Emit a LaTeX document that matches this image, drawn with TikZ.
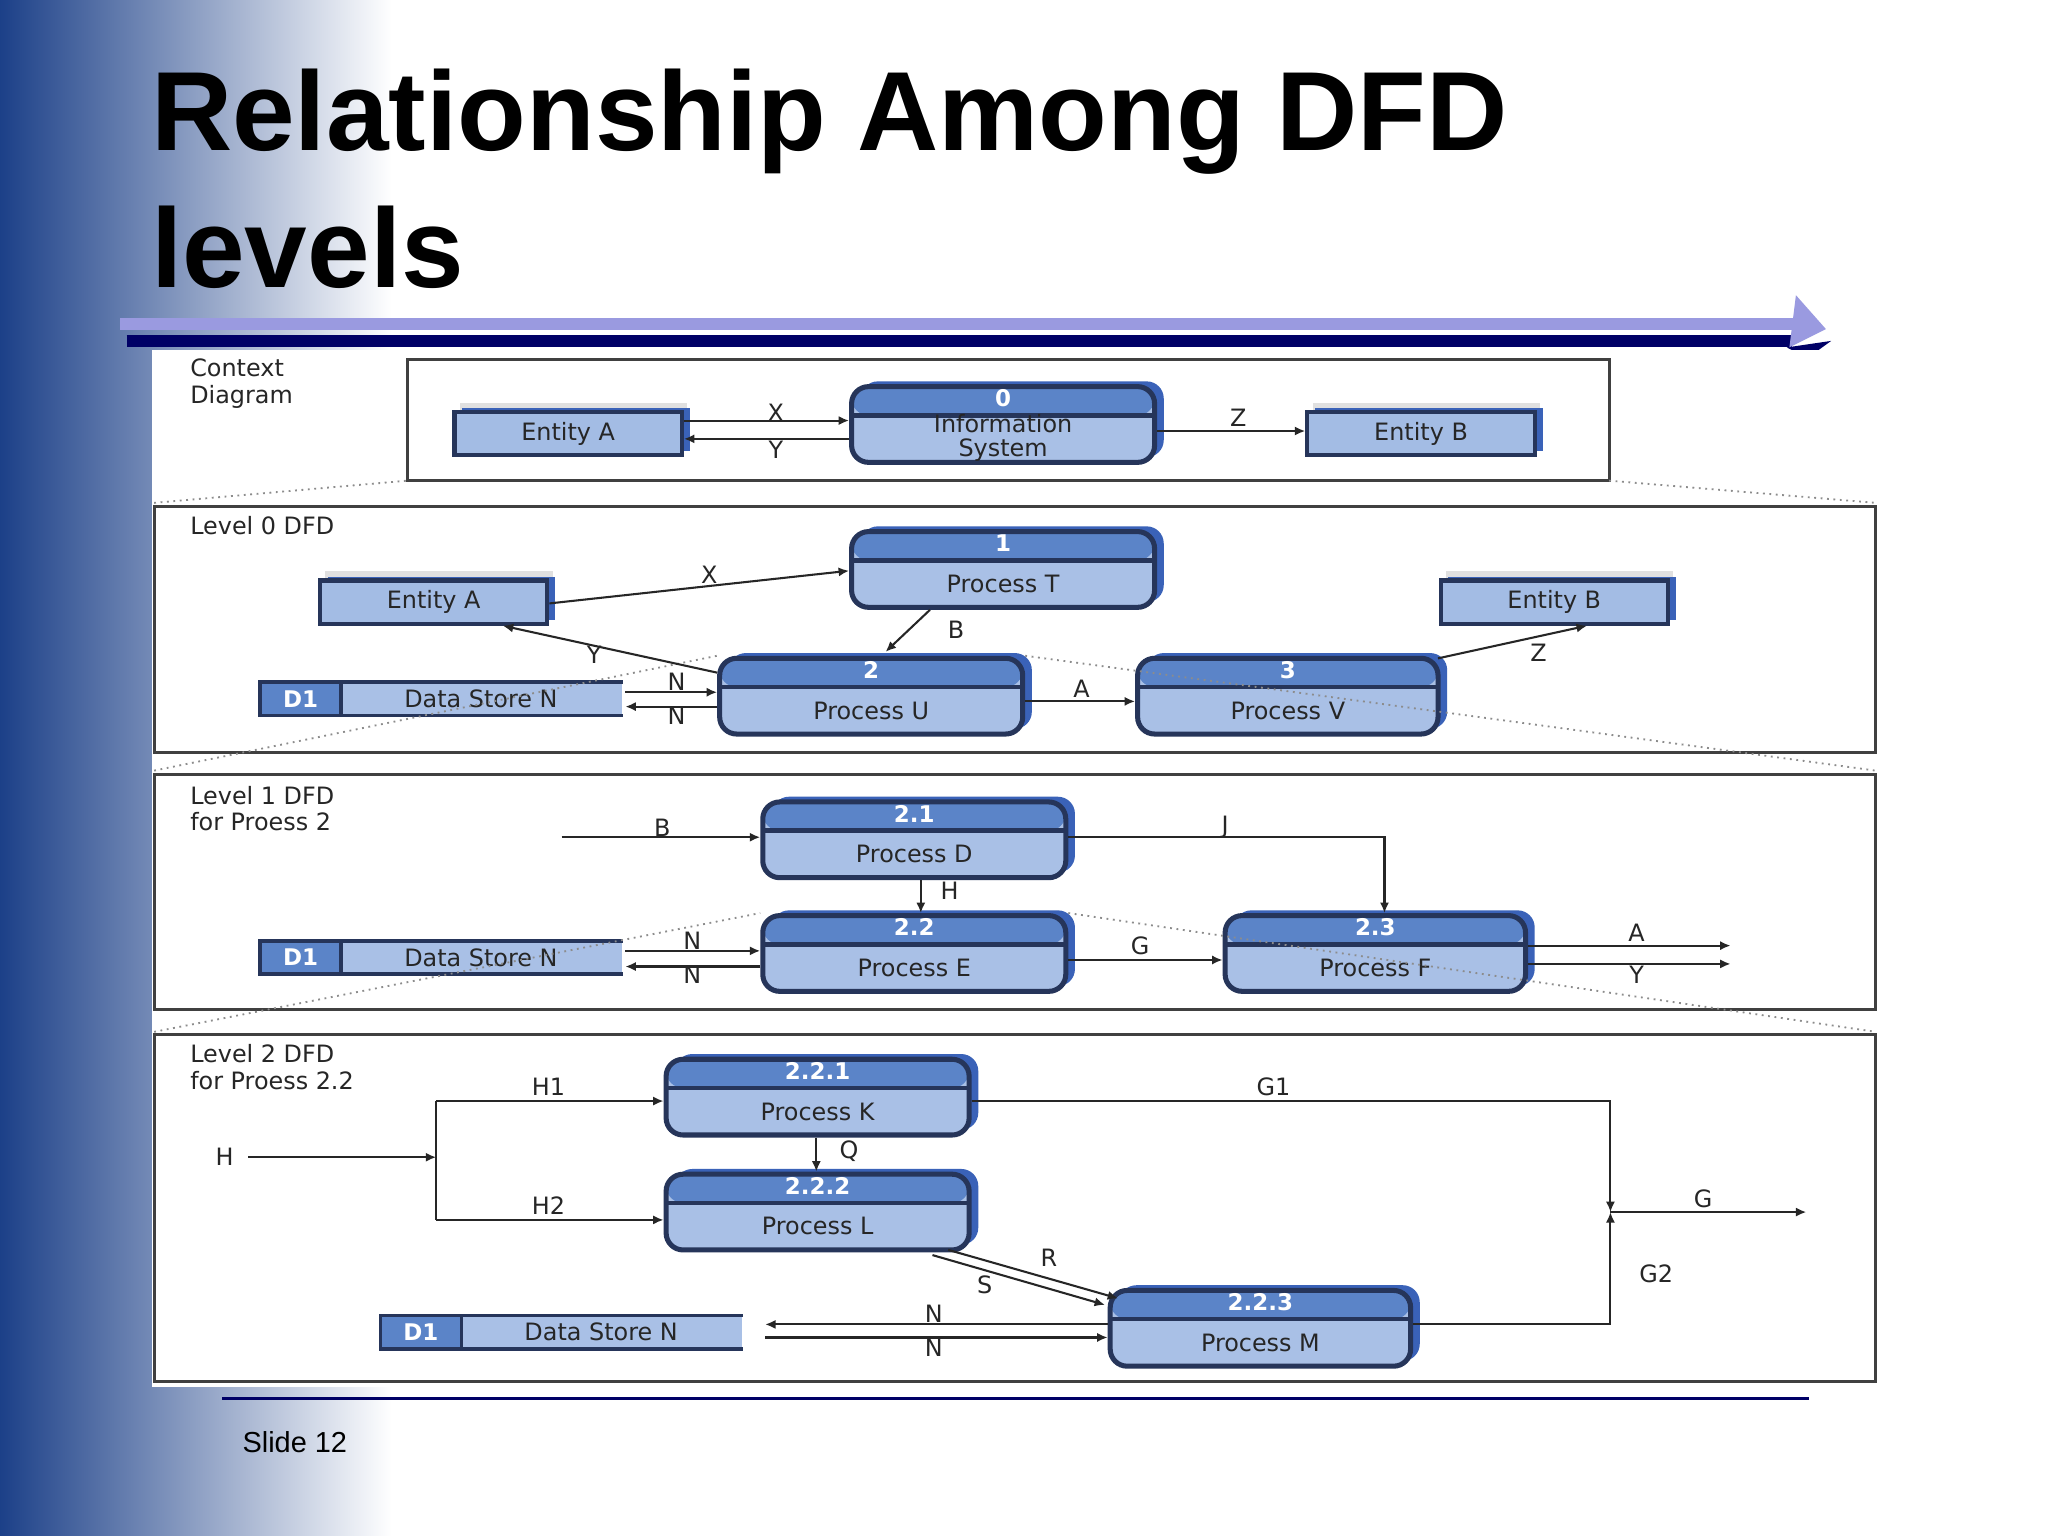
\documentclass[tikz,border=0pt]{standalone}
\usepackage{fontspec}
\setmainfont{Liberation Sans}
\newfontfamily\dfont{DejaVu Sans}
\usetikzlibrary{calc,arrows.meta}
\definecolor{bodyc}{HTML}{A9C0E6}
\definecolor{headc}{HTML}{5B84C8}
\definecolor{bordc}{HTML}{26355A}
\definecolor{shadc}{HTML}{3A62B8}
\definecolor{entc}{HTML}{A3BCE4}
\definecolor{navy}{HTML}{000066}
\definecolor{lav}{HTML}{9A9AE0}
\definecolor{leftc}{HTML}{1C4088}
\tikzset{
 procbox/.style={draw=bordc,line width=1.1pt,rounded corners=0.13cm,fill=bodyc,inner sep=0pt,
  path picture={\fill[headc] (path picture bounding box.north west) rectangle ($(path picture bounding box.north east)+(0,22)$);
   \draw[bordc,line width=1pt] ($(path picture bounding box.north west)+(0,22)$) -- ($(path picture bounding box.north east)+(0,22)$);}},
 procshadow/.style={fill=shadc,rounded corners=0.13cm,inner sep=0pt},
 entbox/.style={draw=bordc,line width=0.9pt,fill=entc,inner sep=0pt,minimum width=1.74cm,minimum height=0.33cm},
 entshadow/.style={fill=shadc,inner sep=0pt,minimum width=1.74cm,minimum height=0.33cm},
 entgray/.style={fill=black!12,inner sep=0pt,minimum width=1.74cm,minimum height=0.33cm},
 storebox/.style={fill=bodyc,inner sep=0pt,minimum width=2.76cm,minimum height=0.24cm,
  path picture={\fill[headc] (path picture bounding box.north west) rectangle ($(path picture bounding box.south west)+(62,0)$);}},
 dtxt/.style={font=\dfont\fontsize{5.2pt}{5.2pt}\selectfont,text=black!85,align=center,inner sep=0pt},
 numtxt/.style={font=\dfont\bfseries\fontsize{5pt}{6pt}\selectfont,text=white,inner sep=0pt},
 lbl/.style={font=\dfont\fontsize{5.2pt}{5.8pt}\selectfont,text=black!85,inner sep=0pt},
 flow/.style={draw=black!85,line width=0.45pt,-{Latex[length=0.08cm,width=0.07cm]}},
 secbox/.style={draw=black!75,line width=0.6pt},
 zoomline/.style={draw=black!45,densely dotted,line width=0.4pt},
}
\newcommand\proc[8]{%
 \node[procshadow,minimum width={#4*0.01cm},minimum height={#5*0.01cm}] at (#2+7,#3-4) {};
 \node[procbox,minimum width={#4*0.01cm},minimum height={#5*0.01cm}] (#1) at (#2,#3) {};
 \node[numtxt] at ($(#1.north)+(0,11)$) {#6};
 \node[dtxt] at ($(#1.center)+(0,#8)$) {#7};}
\newcommand\ent[4]{%
 \node[entgray] at (#2+4,#3-7) {};
 \node[entshadow] at (#2+6,#3-3) {};
 \node[entbox] (#1) at (#2,#3) {};
 \node[dtxt] at (#1.center) {#4};}
\newcommand\dstore[3]{%
 \node[storebox] (#1) at (#2,#3) {};
 \draw[bordc,line width=0.8pt] (#1.north east) -- (#1.north west) -- (#1.south west) -- (#1.south east);
 \draw[bordc,line width=0.8pt] ($(#1.north west)+(62,0)$) -- ($(#1.south west)+(62,0)$);
 \node[numtxt] at ($(#1.west)+(31,0)$) {D1};
 \node[dtxt] at ($(#1.west)+(169,0)$) {Data Store N};}
\begin{document}
\begin{tikzpicture}[x=0.01cm,y=-0.01cm]
\useasboundingbox (0,0) rectangle (1568,1176);
\fill[white] (0,0) rectangle (1568,1176);
\shade[left color=leftc,right color=white] (0,0) rectangle (300,1176);
% title
\node[anchor=base west,font=\bfseries\fontsize{24.5pt}{28pt}\selectfont,inner sep=0pt] (t1) at (115,115) {Relationship Among DFD};
\node[anchor=base west,font=\bfseries\fontsize{24.5pt}{28pt}\selectfont,inner sep=0pt] (t2) at (115,220) {levels};
\draw[lav,line width=0.09cm] (92,248) -- (1380,248);
\draw[navy,line width=0.09cm] (97,261) -- (1372,261);
\fill[navy] (1368,266) -- (1402,261) -- (1384,274) -- cycle;
\fill[lav] (1375,226) -- (1398,252) -- (1370,266) -- cycle;
% bottom
\draw[navy,line width=0.6pt] (170,1071) -- (1385,1071);
\node[anchor=west,font=\fontsize{6.3pt}{7pt}\selectfont,inner sep=0pt] (sl) at (185,1104) {Slide 12};
% panel
\fill[white] (116,268) rectangle (1440,1062);
% section boxes
\draw[secbox] (312,275) rectangle (1232,368);
\draw[secbox] (118,388) rectangle (1436,576);
\draw[secbox] (118,593) rectangle (1436,773);
\draw[secbox] (118,792) rectangle (1436,1058);
\node[lbl,anchor=north west,align=left] (l0) at (145,274) {Context\\Diagram};
\node[lbl,anchor=north west] (l1) at (145,395) {Level 0 DFD};
\node[lbl,anchor=north west,align=left] (l2) at (145,601) {Level 1 DFD\\for Proess 2};
\node[lbl,anchor=north west,align=left] (l3) at (145,799) {Level 2 DFD\\for Proess 2.2};
% context
\ent{cea}{435}{332}{Entity A}
\ent{ceb}{1088}{332}{Entity B}
\proc{p0}{768}{325}{232}{58}{0}{Information\\System}{10}
\draw[flow] ($(cea.east)+(0,-10)$) -- ($(p0.west)+(0,-3)$);
\draw[flow] ($(p0.west)+(0,11)$) -- ($(cea.east)+(0,4)$);
\draw[flow] ($(p0.east)+(0,5)$) -- ($(ceb.west)+(0,-2)$);
\node[lbl] at (594,316) {X};
\node[lbl] at (594,344) {Y};
\node[lbl] at (948,320) {Z};
% level 0
\ent{ea0}{332}{461}{Entity A}
\ent{eb0}{1190}{461}{Entity B}
\dstore{s0}{338}{535}
\proc{p1}{768}{436}{232}{58}{1}{Process T}{11}
\proc{p2}{667}{533}{232}{58}{2}{Process U}{11}
\proc{p3}{986}{533}{230}{58}{3}{Process V}{11}
\draw[zoomline] (118,385) -- (312,368);
\draw[zoomline] (1232,368) -- (1436,385);
\draw[zoomline] (118,590) -- (p2.north west);
\draw[zoomline] (p2.north east) -- (1436,590);
\draw[flow] ($(ea0.east)+(0,1)$) -- ($(p1.west)+(0,1)$);
\draw[flow] ($(p1.south)+(-56,0)$) -- ($(p2.north)+(11,-3)$);
\draw[flow] ($(p2.west)+(0,-18)$) -- ($(ea0.south)+(53,0)$);
\draw[flow] ($(s0.east)+(2,-5)$) -- ($(p2.west)+(0,-3)$);
\draw[flow] ($(p2.west)+(0,8)$) -- ($(s0.east)+(2,6)$);
\draw[flow] ($(p2.east)+(0,4)$) -- ($(p3.west)+(0,4)$);
\draw[flow] ($(p3.north east)+(-2,2)$) -- ($(eb0.south)+(25,0)$);
\node[lbl] at (543,440) {X};
\node[lbl] at (732,482) {B};
\node[lbl] at (455,501) {Y};
\node[lbl] at (518,522) {N};
\node[lbl] at (518,548) {N};
\node[lbl] at (828,527) {A};
\node[lbl] at (1178,500) {Z};
% level 1
\dstore{s1}{338}{733}
\proc{p21}{700}{643}{232}{58}{2.1}{Process D}{11}
\proc{p22}{700}{730}{232}{58}{2.2}{Process E}{11}
\proc{p23}{1053}{730}{230}{58}{2.3}{Process F}{11}
\draw[zoomline] (118,790) -- (p22.north west);
\draw[zoomline] (p22.north east) -- (1436,790);
\coordinate (bin) at (430,641);
\coordinate (aout) at (1325,724);
\coordinate (yout) at (1325,738);
\draw[flow] (bin) -- ($(p21.west)+(0,-2)$);
\draw[flow] ($(p21.east)+(0,-2)$) -| ($(p23.north)+(7,0)$);
\draw[flow] ($(p21.south)+(5,0)$) -- ($(p22.north)+(5,0)$);
\draw[flow] ($(s1.east)+(2,-5)$) -- ($(p22.west)+(0,-2)$);
\draw[flow] ($(p22.west)+(0,10)$) -- ($(s1.east)+(2,7)$);
\draw[flow] ($(p22.east)+(0,5)$) -- ($(p23.west)+(0,5)$);
\draw[flow] ($(p23.east)+(0,-6)$) -- (aout);
\draw[flow] ($(p23.east)+(0,8)$) -- (yout);
\node[lbl] at (507,634) {B};
\node[lbl] at (938,633) {J};
\node[lbl] at (727,682) {H};
\node[lbl] at (530,720) {N};
\node[lbl] at (530,746) {N};
\node[lbl] at (873,724) {G};
\node[lbl] at (1253,714) {A};
\node[lbl] at (1253,746) {Y};
% level 2
\dstore{s2}{430}{1020}
\proc{p221}{626}{840}{232}{58}{2.2.1}{Process K}{11}
\proc{p222}{626}{928}{232}{58}{2.2.2}{Process L}{11}
\proc{p223}{965}{1017}{230}{58}{2.2.3}{Process M}{11}
\coordinate (hs) at (190,886);
\coordinate (hj) at (334,886);
\coordinate (ht) at (334,843);
\coordinate (hb) at (334,934);
\coordinate (gj) at (1233,928);
\coordinate (gout) at (1383,928);
\draw[flow] (hs) -- (hj);
\draw[draw=black!85,line width=0.45pt] (ht) -- (hb);
\draw[flow] (ht) -- ($(p221.west)+(0,3)$);
\draw[flow] (hb) -- ($(p222.west)+(0,6)$);
\draw[flow] ($(p221.south)+(-1,0)$) -- ($(p222.north)+(-1,0)$);
\draw[flow] ($(p221.east)+(0,3)$) -| (gj);
\draw[flow] ($(p223.east)+(0,-3)$) -| (gj);
\draw[flow] (gj) -- (gout);
\draw[flow] ($(p222.south east)+(-18,-2)$) -- ($(p223.north west)+(8,8)$);
\draw[flow] ($(p222.south east)+(-30,2)$) -- ($(p223.north west)+(-2,13)$);
\draw[flow] ($(p223.west)+(0,-3)$) -- ($(s2.east)+(17,-6)$);
\draw[flow] ($(s2.east)+(17,4)$) -- ($(p223.west)+(0,7)$);
\node[lbl] at (172,886) {H};
\node[lbl] at (420,832) {H1};
\node[lbl] at (420,923) {H2};
\node[lbl] at (650,881) {Q};
\node[lbl] at (975,832) {G1};
\node[lbl] at (1268,975) {G2};
\node[lbl] at (1304,918) {G};
\node[lbl] at (803,963) {R};
\node[lbl] at (754,984) {S};
\node[lbl] at (715,1006) {N};
\node[lbl] at (715,1032) {N};
\end{tikzpicture}
\end{document}
